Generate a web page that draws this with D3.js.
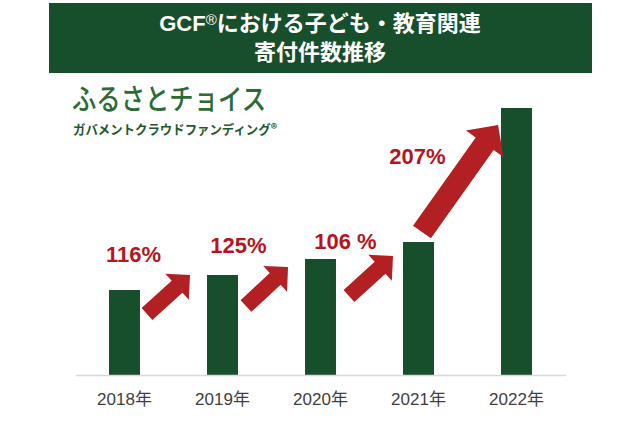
<!DOCTYPE html>
<html>
<head>
<meta charset="utf-8">
<script src="https://cdnjs.cloudflare.com/ajax/libs/d3/7.8.5/d3.min.js"></script>
<style>
  html, body { margin: 0; padding: 0; background: #fff; }
  svg { display: block; }
</style>
</head>
<body>
<svg></svg>
<script>
// data
const years = ['2018年', '2019年', '2020年', '2021年', '2022年'];
const counts = [85, 100, 116, 133, 267];   // relative number of donations
const growth = ['116%', '125%', '106 %', '207%'];

const width = 640,
      height = 426,
      green = '#174e2c',
      red = '#b22024',
      labelRed = '#b8141d';

const svg = d3.select('svg')
    .attr('width', width)
    .attr('height', height);

// title banner
svg.append('rect')
    .attr('x', 49)
    .attr('y', 3)
    .attr('width', 543)
    .attr('height', 70)
    .attr('fill', green);

const title = svg.append('text')
    .attr('x', 320)
    .attr('y', 31)
    .attr('text-anchor', 'middle')
    .attr('fill', '#fff')
    .style('font-family', '"Liberation Sans", "Noto Sans CJK JP", sans-serif')
    .style('font-size', '22px')
    .style('font-weight', 'bold');

title.append('tspan').text('GCF');
title.append('tspan').attr('dy', -6).style('font-size', '15px').style('font-weight', 'normal').text('®');
title.append('tspan').attr('dy', 6).text('における子ども・教育関連');

svg.append('text')
    .attr('x', 320)
    .attr('y', 60)
    .attr('text-anchor', 'middle')
    .attr('fill', '#fff')
    .style('font-family', '"Noto Sans CJK JP", sans-serif')
    .style('font-size', '22px')
    .style('font-weight', 'bold')
    .text('寄付件数推移');

// logo
svg.append('text')
    .attr('x', 72)
    .attr('y', 110)
    .attr('fill', '#2c6a36')
    .attr('textLength', 194)
    .attr('lengthAdjust', 'spacingAndGlyphs')
    .style('font-family', '"Noto Sans CJK JP", serif')
    .style('font-size', '29px')
    .style('font-weight', '500')
    .text('ふるさとチョイス');

svg.append('text')
    .attr('x', 73)
    .attr('y', 134)
    .attr('fill', '#1e5a2e')
    .attr('textLength', 204)
    .attr('lengthAdjust', 'spacingAndGlyphs')
    .style('font-family', '"Noto Sans CJK JP", sans-serif')
    .style('font-size', '13px')
    .style('font-weight', 'bold')
    .text('ガバメントクラウドファンディング®');

// scales
const x = d3.scaleBand()
    .domain(years)
    .range([75.5, 565.5])
    .paddingInner(0.684)
    .paddingOuter(0.342);

const y = d3.scaleLinear()
    .domain([0, d3.max(counts)])
    .range([375, 108]);

const bw = x.bandwidth();

const chart = svg.append('g');

chart.selectAll('.bar')
  .data(counts)
  .enter()
  .append('rect')
    .classed('bar', true)
    .attr('x', (d, i) => x(years[i]))
    .attr('y', (d) => y(d))
    .attr('width', bw)
    .attr('height', (d) => y(0) - y(d))
    .attr('fill', green);

const xAxis = svg.append('g')
    .attr('transform', `translate(0, ${y(0)})`)
    .call(d3.axisBottom(x).tickSize(0).tickPadding(18));

xAxis.select('.domain')
    .attr('stroke', '#d9d9d9')
    .attr('stroke-width', 1.3);

xAxis.selectAll('text')
    .attr('fill', '#404040')
    .style('font-family', '"Liberation Sans", "Noto Sans CJK JP", sans-serif')
    .style('font-size', '17px');

// growth arrows: tail just right of bar i, tip just left of bar i+1
// offsets (px) tuned per arrow: [tailDx, tailDy, tipDx, tipDy, shaft, head]
const arrowLayout = [
  [7, 24, -17, 0, 16, 35],
  [8, 31, -17, 8, 16, 35],
  [13, 37, -10, 14, 16, 35],
  [-12, -10, -3, 17, 22, 46]
];

// label offsets (px) from bar i centre / top
const labelLayout = [
  [9, -28],
  [16, -22],
  [25, -10],
  [-1, -78]
];

function arrowPath(x0, y0, x1, y1, shaft, head) {
  const len = Math.hypot(x1 - x0, y1 - y0),
        ux = (x1 - x0) / len,
        uy = (y1 - y0) / len,
        px = -uy,
        py = ux,
        hl = head / 2,
        bx = x1 - ux * hl,
        by = y1 - uy * hl,
        s = shaft / 2;
  const pts = [
    [x0 + px * s, y0 + py * s],
    [bx + px * s, by + py * s],
    [bx + px * hl, by + py * hl],
    [x1, y1],
    [bx - px * hl, by - py * hl],
    [bx - px * s, by - py * s],
    [x0 - px * s, y0 - py * s]
  ];
  return 'M' + pts.map((p) => p.join(',')).join('L') + 'Z';
}

chart.selectAll('.arrow')
  .data(growth)
  .enter()
  .append('path')
    .classed('arrow', true)
    .attr('d', (d, i) => {
      const l = arrowLayout[i];
      return arrowPath(
        x(years[i]) + bw + l[0], y(counts[i]) + l[1],
        x(years[i + 1]) + l[2], y(counts[i + 1]) + l[3],
        l[4], l[5]);
    })
    .attr('fill', red);

chart.selectAll('.growth')
  .data(growth)
  .enter()
  .append('text')
    .classed('growth', true)
    .attr('x', (d, i) => x(years[i]) + bw / 2 + labelLayout[i][0])
    .attr('y', (d, i) => y(counts[i]) + labelLayout[i][1])
    .attr('text-anchor', 'middle')
    .attr('fill', labelRed)
    .style('font-family', '"Liberation Sans", Arial, sans-serif')
    .style('font-size', '22px')
    .style('font-weight', 'bold')
    .text((d) => d);
</script>
</body>
</html>
